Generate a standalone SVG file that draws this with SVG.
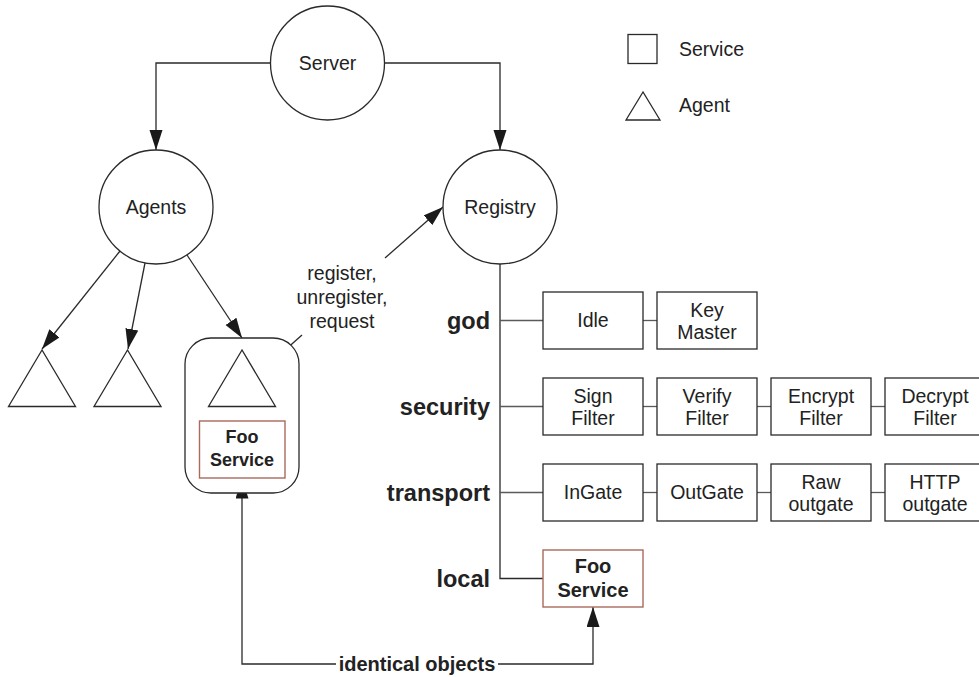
<svg xmlns="http://www.w3.org/2000/svg" width="979" height="677" viewBox="0 0 979 677">
  <style>
    .shape { fill: #fff; stroke: #2a2a2a; stroke-width: 1.3; }
    .svc { fill: #fff; stroke: #2a2a2a; stroke-width: 1.3; }
    .foo { fill: #fff; stroke: #a86a5c; stroke-width: 1.4; }
    .wire { fill: none; stroke: #2a2a2a; stroke-width: 1.3; }
    .link { fill: none; stroke: #5a5a5a; stroke-width: 1.3; }
    .arrow { fill: none; stroke: #2a2a2a; stroke-width: 1.3; marker-end: url(#head); }
    .t { font-family: "Liberation Sans", Arial, Helvetica, sans-serif; font-size: 19.5px; fill: #222; text-anchor: middle; }
    .tl { font-family: "Liberation Sans", Arial, Helvetica, sans-serif; font-size: 19.5px; fill: #222; }
    .b { font-family: "Liberation Sans", Arial, Helvetica, sans-serif; font-weight: bold; font-size: 20px; fill: #222; text-anchor: middle; }
    .bs { font-family: "Liberation Sans", Arial, Helvetica, sans-serif; font-weight: bold; font-size: 18px; fill: #222; text-anchor: middle; }
    .layer { font-family: "Liberation Sans", Arial, Helvetica, sans-serif; font-weight: bold; font-size: 23.5px; fill: #222; text-anchor: end; }
  </style>
  <defs>
    <marker id="head" markerUnits="userSpaceOnUse" markerWidth="20" markerHeight="14" refX="20" refY="6.5" orient="auto">
      <path d="M0,0 L20,6.5 L0,13 Z" fill="#1a1a1a"/>
    </marker>
  </defs>

  <!-- connectors -->
  <g id="connectors">
    <polyline class="arrow" points="270,63 156,63 156,150"/>
    <polyline class="arrow" points="385,63 500,63 500,150"/>
    <line class="arrow" x1="120" y1="251" x2="42" y2="349"/>
    <line class="arrow" x1="145" y1="263" x2="128" y2="349"/>
    <line class="arrow" x1="187" y1="255" x2="242" y2="338"/>
    <line class="wire" x1="257" y1="375" x2="302" y2="335"/>
    <line class="arrow" x1="385" y1="258" x2="443" y2="207"/>
    <polyline class="wire" points="500,264 500,578.5 543,578.5"/>
    <line class="link" x1="500" y1="320.5" x2="543" y2="320.5"/>
    <line class="link" x1="500" y1="406.5" x2="543" y2="406.5"/>
    <line class="link" x1="500" y1="492.5" x2="543" y2="492.5"/>
    <line class="link" x1="643" y1="320.5" x2="657" y2="320.5"/>
    <line class="link" x1="643" y1="406.5" x2="657" y2="406.5"/>
    <line class="link" x1="757" y1="406.5" x2="771" y2="406.5"/>
    <line class="link" x1="871" y1="406.5" x2="885" y2="406.5"/>
    <line class="link" x1="643" y1="492.5" x2="657" y2="492.5"/>
    <line class="link" x1="757" y1="492.5" x2="771" y2="492.5"/>
    <line class="link" x1="871" y1="492.5" x2="885" y2="492.5"/>
    <polyline class="arrow" points="336,664 242,664 242,478.5"/>
    <polyline class="arrow" points="498,664 593,664 593,607"/>
  </g>

  <!-- circles -->
  <g id="server">
    <circle class="shape" cx="327.5" cy="63" r="57"/>
    <text class="t" x="327.5" y="70">Server</text>
  </g>
  <g id="agents">
    <circle class="shape" cx="156" cy="207" r="57"/>
    <text class="t" x="156" y="214">Agents</text>
  </g>
  <g id="registry">
    <circle class="shape" cx="500" cy="207" r="57"/>
    <text class="t" x="500" y="214">Registry</text>
  </g>

  <!-- agents -->
  <g id="agent-1"><polygon class="shape" points="42,350 8.5,406.5 75.5,406.5"/></g>
  <g id="agent-2"><polygon class="shape" points="127.5,350 94,406.5 161,406.5"/></g>
  <g id="agent-3">
    <rect class="shape" x="185" y="338" width="114" height="155" rx="26" ry="26"/>
    <polygon class="shape" points="242,350 208.5,406.5 275.5,406.5"/>
    <rect class="foo" x="199.5" y="421" width="85.5" height="57"/>
    <text class="bs" x="242" y="443">Foo</text>
    <text class="bs" x="242" y="465.5">Service</text>
  </g>

  <text class="t" x="342" y="280">register,</text>
  <text class="t" x="342" y="304">unregister,</text>
  <text class="t" x="342" y="328">request</text>

  <!-- layer labels -->
  <text class="layer" x="490" y="329">god</text>
  <text class="layer" x="490" y="415">security</text>
  <text class="layer" x="490" y="501">transport</text>
  <text class="layer" x="490" y="587">local</text>

  <!-- god -->
  <g id="idle">
    <rect class="svc" x="543" y="292" width="100" height="57"/>
    <text class="t" x="593" y="327">Idle</text>
  </g>
  <g id="key-master">
    <rect class="svc" x="657" y="292" width="100" height="57"/>
    <text class="t" x="707" y="316.5">Key</text>
    <text class="t" x="707" y="339">Master</text>
  </g>

  <!-- security -->
  <g id="sign-filter">
    <rect class="svc" x="543" y="378" width="100" height="57"/>
    <text class="t" x="593" y="402.5">Sign</text>
    <text class="t" x="593" y="425">Filter</text>
  </g>
  <g id="verify-filter">
    <rect class="svc" x="657" y="378" width="100" height="57"/>
    <text class="t" x="707" y="402.5">Verify</text>
    <text class="t" x="707" y="425">Filter</text>
  </g>
  <g id="encrypt-filter">
    <rect class="svc" x="771" y="378" width="100" height="57"/>
    <text class="t" x="821" y="402.5">Encrypt</text>
    <text class="t" x="821" y="425">Filter</text>
  </g>
  <g id="decrypt-filter">
    <rect class="svc" x="885" y="378" width="100" height="57"/>
    <text class="t" x="935" y="402.5">Decrypt</text>
    <text class="t" x="935" y="425">Filter</text>
  </g>

  <!-- transport -->
  <g id="ingate">
    <rect class="svc" x="543" y="464" width="100" height="57"/>
    <text class="t" x="593" y="499">InGate</text>
  </g>
  <g id="outgate">
    <rect class="svc" x="657" y="464" width="100" height="57"/>
    <text class="t" x="707" y="499">OutGate</text>
  </g>
  <g id="raw-outgate">
    <rect class="svc" x="771" y="464" width="100" height="57"/>
    <text class="t" x="821" y="488.5">Raw</text>
    <text class="t" x="821" y="511">outgate</text>
  </g>
  <g id="http-outgate">
    <rect class="svc" x="885" y="464" width="100" height="57"/>
    <text class="t" x="935" y="488.5">HTTP</text>
    <text class="t" x="935" y="511">outgate</text>
  </g>

  <!-- local -->
  <g id="foo-service">
    <rect class="foo" x="543" y="550" width="100" height="57"/>
    <text class="b" x="593" y="572.5">Foo</text>
    <text class="b" x="593" y="596.5">Service</text>
  </g>

  <text class="b" x="417" y="671">identical objects</text>

  <!-- legend -->
  <g id="legend">
    <rect class="svc" x="628" y="34.5" width="29" height="29"/>
    <text class="tl" x="679" y="55.5">Service</text>
    <polygon class="shape" points="643,92 626,120 660,120"/>
    <text class="tl" x="679" y="111.5">Agent</text>
  </g>
</svg>
